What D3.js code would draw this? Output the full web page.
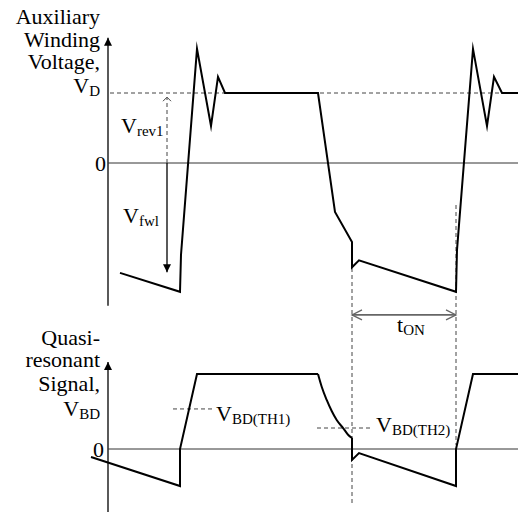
<!DOCTYPE html>
<html>
<head>
<meta charset="utf-8">
<script src="https://cdn.jsdelivr.net/npm/d3@7"></script>
<style>
  body { margin: 0; background: #fff; }
  text { font-family: "Liberation Serif", "Times New Roman", serif; fill: #000; }
</style>
</head>
<body>
<div id="chart"></div>
<script>
// Auxiliary winding voltage (time in arbitrary units, volts with V_D = 10)
const auxTime = [1.2, 7.2, 7.3, 8.9, 10.3, 11.0, 11.7, 21.0, 22.7, 24.4, 24.4, 25.1, 34.8, 34.9, 36.5, 37.9, 38.6, 39.4, 41.0];
const auxVolt = [-15.7, -18.4, -13.1, 16.3, 5.3, 12.3, 10, 10, -7, -11.3, -14.9, -13.9, -18.4, -12.4, 16.3, 5.3, 12.3, 10, 10];

// Quasi-resonant signal, split around the decaying curve
const qrTimeA = [-1.7, 7.2, 7.2, 8.9, 21.0];
const qrVoltA = [-0.53, -2.47, 0, 5, 5];
const qrDecayTime = [21.0, 21.37, 21.87, 22.37, 22.87, 23.53, 24.03, 24.4];
const qrDecayVolt = [5, 4.15, 3.27, 2.53, 1.93, 1.38, 0.93, 0.73];
const qrTimeB = [24.4, 24.4, 25.1, 34.8, 34.8, 36.5, 41.0];
const qrVoltB = [0.73, -0.73, -0.27, -2.47, 0, 5, 5];

const VD = 10;
const vRevTime = 5.9, vRevTop = 9.4;
const vFwlBottom = -15.6;
const thresholds = [
  { level: 2.67, from: 6.5, to: 10.5, sub: "BD(TH1)" },
  { level: 1.4, from: 20.9, to: 26.5, sub: "BD(TH2)" }
];
const tOnStart = 24.4, tOnEnd = 34.8;

const width = 518, height = 512;
const svg = d3.select("#chart").append("svg")
  .attr("width", width)
  .attr("height", height);

const x = d3.scaleLinear().domain([0, 41]).range([108, 518]);
const yAux = d3.scaleLinear().domain([0, 10]).range([163, 93]);
const yQr = d3.scaleLinear().domain([0, 5]).range([449, 374]);

// filled arrowhead
svg.append("defs").append("marker")
  .attr("id", "tri")
  .attr("viewBox", "0 0 10 10")
  .attr("refX", 10).attr("refY", 5)
  .attr("markerUnits", "userSpaceOnUse")
  .attr("markerWidth", 9).attr("markerHeight", 8)
  .attr("orient", "auto")
  .append("path").attr("d", "M0,0 L10,5 L0,10 z").attr("fill", "#000");

const zip = (ts, vs) => ts.map((t, i) => [t, vs[i]]);

function chevron(px, py, dx, dy, len, half, color, w) {
  // dx,dy = direction of the tip
  const bx = px - dx * len, by = py - dy * len;
  const nx = -dy * half, ny = dx * half;
  svg.append("path")
    .attr("d", `M${bx + nx},${by + ny} L${px},${py} L${bx - nx},${by - ny}`)
    .attr("fill", "none").attr("stroke", color).attr("stroke-width", w);
}

function subLabel(px, py, main, sub, anchor = "start") {
  const t = svg.append("text").attr("x", px).attr("y", py)
    .attr("text-anchor", anchor).style("font-size", "22px");
  t.append("tspan").text(main);
  t.append("tspan").attr("dy", 3).style("font-size", "15px").text(sub);
}

function lines(arr, ys) {
  arr.forEach((s, i) => {
    svg.append("text").attr("x", 100).attr("y", ys[i])
      .attr("text-anchor", "end").style("font-size", "22px").text(s);
  });
}

// ---- axes
svg.append("line").attr("x1", x(0)).attr("x2", x(0))
  .attr("y1", yAux(-20.4)).attr("y2", yAux(17.9))
  .attr("stroke", "#000").attr("stroke-width", 1.3).attr("marker-end", "url(#tri)");
svg.append("line").attr("x1", x(0)).attr("x2", x(0))
  .attr("y1", height).attr("y2", yQr(5.8))
  .attr("stroke", "#000").attr("stroke-width", 1.3).attr("marker-end", "url(#tri)");

// zero lines
svg.append("line").attr("x1", x(0)).attr("x2", x(41))
  .attr("y1", yAux(0)).attr("y2", yAux(0)).attr("stroke", "#333").attr("stroke-width", 1);
svg.append("line").attr("x1", x(0)).attr("x2", x(41))
  .attr("y1", yQr(0)).attr("y2", yQr(0)).attr("stroke", "#333").attr("stroke-width", 1);

// ---- dashed references
const dash = sel => sel.attr("stroke", "#444").attr("stroke-width", 1).attr("stroke-dasharray", "4,3");
dash(svg.append("line").attr("x1", x(0.2)).attr("x2", x(41))
  .attr("y1", yAux(VD)).attr("y2", yAux(VD)));
dash(svg.append("line").attr("x1", x(tOnStart)).attr("x2", x(tOnStart))
  .attr("y1", yAux(-15)).attr("y2", yQr(-3.6)));
dash(svg.append("line").attr("x1", x(tOnEnd)).attr("x2", x(tOnEnd))
  .attr("y1", yAux(-6)).attr("y2", yQr(0.27)));
thresholds.forEach(d => {
  dash(svg.append("line").attr("x1", x(d.from)).attr("x2", x(d.to))
    .attr("y1", yQr(d.level)).attr("y2", yQr(d.level)));
});

// V_rev1 (dashed, open head) and V_fw1 (solid, filled head)
dash(svg.append("line").attr("x1", x(vRevTime)).attr("x2", x(vRevTime))
  .attr("y1", yAux(0)).attr("y2", yAux(vRevTop)));
chevron(x(vRevTime), yAux(vRevTop), 0, -1, 4, 4, "#444", 1);
svg.append("line").attr("x1", x(vRevTime)).attr("x2", x(vRevTime))
  .attr("y1", yAux(0)).attr("y2", yAux(vFwlBottom))
  .attr("stroke", "#000").attr("stroke-width", 1.3).attr("marker-end", "url(#tri)");

// t_ON
const yOn = yAux(-21.7);
svg.append("line").attr("x1", x(tOnStart)).attr("x2", x(tOnEnd))
  .attr("y1", yOn).attr("y2", yOn).attr("stroke", "#666").attr("stroke-width", 1.6);
chevron(x(tOnStart), yOn, -1, 0, 10, 5, "#666", 1.3);
chevron(x(tOnEnd), yOn, 1, 0, 10, 5, "#666", 1.3);

// ---- waveforms
const line = d3.line().x(d => x(d[0])).y(d => yAux(d[1]));
const lineQr = d3.line().x(d => x(d[0])).y(d => yQr(d[1]));
const wave = sel => sel.attr("fill", "none").attr("stroke", "#000")
  .attr("stroke-width", 2).attr("stroke-linejoin", "miter").attr("stroke-miterlimit", 10);

wave(svg.append("path").attr("d", line(zip(auxTime, auxVolt))));
wave(svg.append("path").attr("d", lineQr(zip(qrTimeA, qrVoltA))));
wave(svg.append("path").attr("d", lineQr.curve(d3.curveMonotoneX)(zip(qrDecayTime, qrDecayVolt))));
lineQr.curve(d3.curveLinear);
wave(svg.append("path").attr("d", lineQr(zip(qrTimeB, qrVoltB))));

// ---- text
lines(["Auxiliary", "Winding", "Voltage,"], [24, 47, 69]);
subLabel(100, 93, "V", "D", "end");
lines(["Quasi-", "resonant", "Signal,"], [345, 367, 391]);
subLabel(100, 416, "V", "BD", "end");

svg.append("text").attr("x", 106).attr("y", yAux(0) + 7.5)
  .attr("text-anchor", "end").style("font-size", "22px").text("0");
svg.append("text").attr("x", 104).attr("y", yQr(0) + 7.5)
  .attr("text-anchor", "end").style("font-size", "22px").text("0");

subLabel(121, 133, "V", "rev1");
subLabel(123, 223, "V", "fwl");
subLabel(x(28.9), yOn + 17, "t", "ON");
subLabel(x(thresholds[0].to) + 3, 421, "V", thresholds[0].sub);
subLabel(x(thresholds[1].to) + 3, 432, "V", thresholds[1].sub);
</script>
</body>
</html>
